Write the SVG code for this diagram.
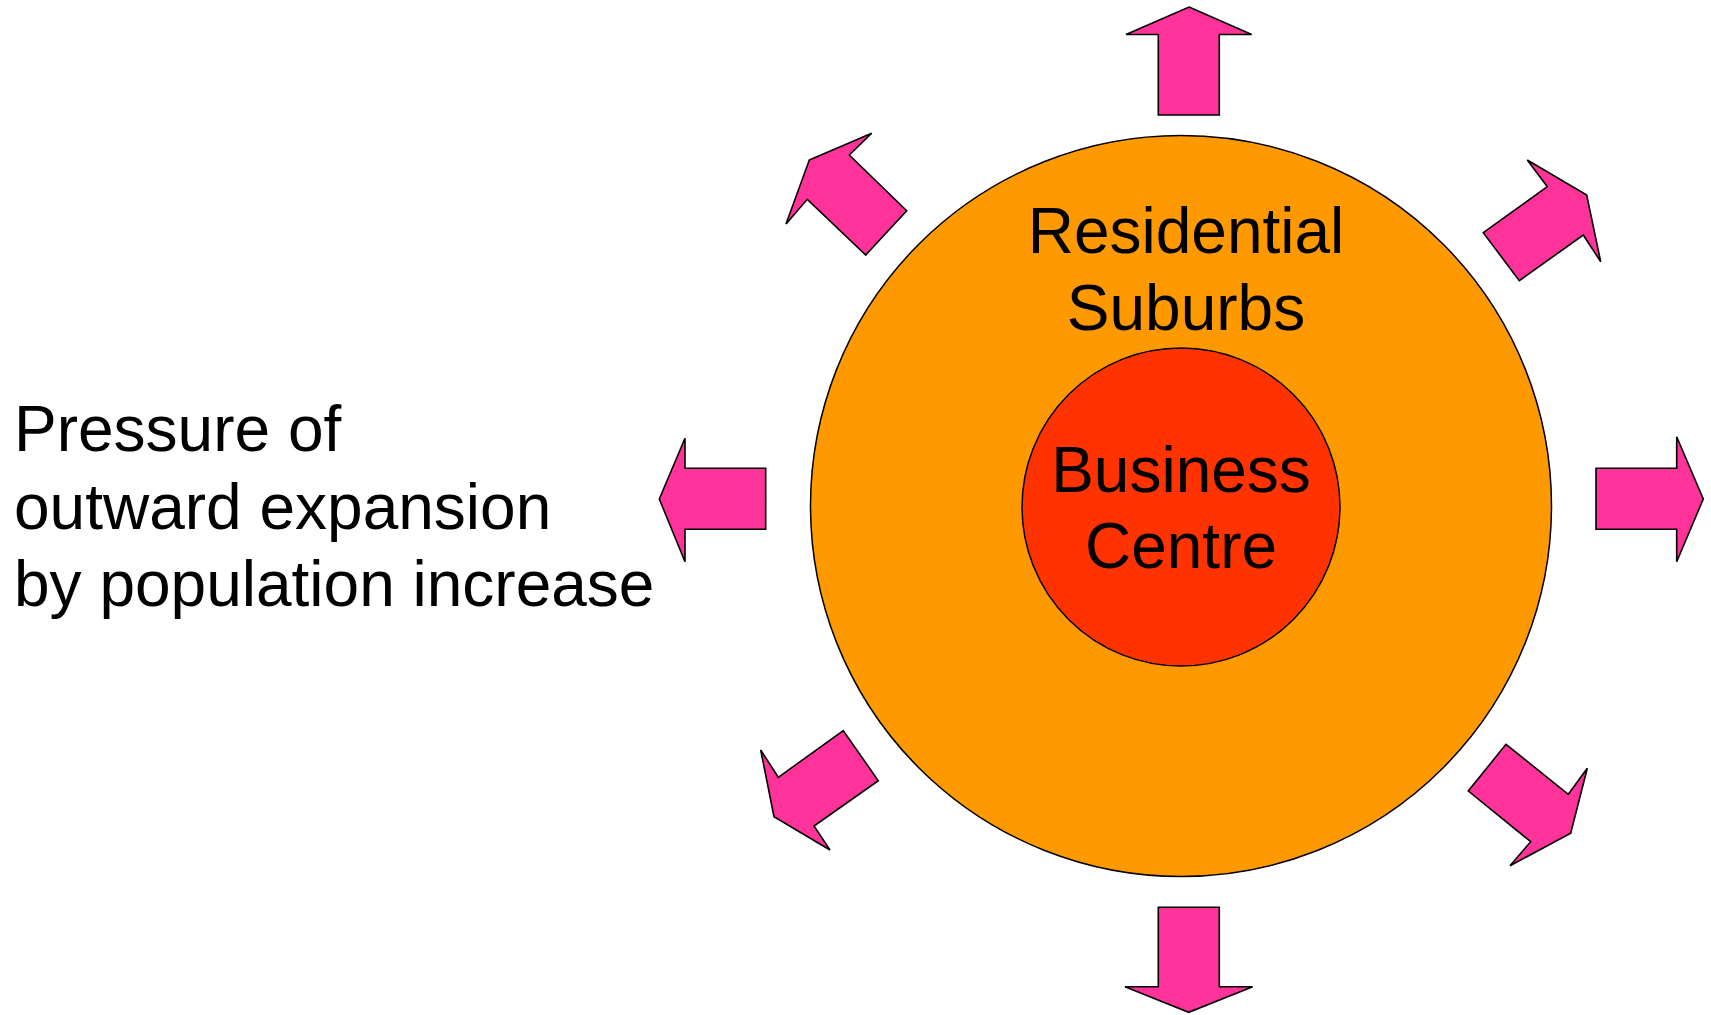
<svg xmlns="http://www.w3.org/2000/svg" width="1711" height="1015" viewBox="0 0 1711 1015">
<style>
.t{font-family:"Liberation Sans",Arial,Helvetica,sans-serif;font-size:64px;fill:#000}
.c{text-anchor:middle}
.arrow{fill:#FF3399;stroke:#000;stroke-width:1.6;stroke-linejoin:miter}
.ring{stroke:#000;stroke-width:1.5}
</style>
<rect width="1711" height="1015" fill="#fff"/>
<g id="residential-suburbs">
<circle class="ring" cx="1181" cy="506" r="370.5" fill="#FF9900"/>
<text class="t c" x="1186" y="253">Residential</text>
<text class="t c" x="1186" y="330">Suburbs</text>
</g>
<g id="business-centre">
<circle class="ring" cx="1181" cy="507" r="159" fill="#FF3300"/>
<text class="t c" x="1181" y="492">Business</text>
<text class="t c" x="1181" y="568">Centre</text>
</g>
<g id="caption">
<text class="t" x="14" y="451">Pressure of</text>
<text class="t" x="14" y="529">outward expansion</text>
<text class="t" x="14" y="606">by population increase</text>
</g>
<g id="connectors">
<g id="arrow-n"><polygon class="arrow" points="1189,7 1251.7,34.5 1219.3,34.5 1219.3,115 1158.3,115 1158.3,34.5 1126,34.5"/></g>
<g id="arrow-s"><polygon class="arrow" points="1158.3,907.3 1219.3,907.3 1219.3,986.7 1252.7,986.7 1188.7,1012.3 1125,986.7 1158.3,986.7"/></g>
<g id="arrow-w"><polygon class="arrow" points="659.3,499 685,438.3 685,468.3 765.7,468.3 765.7,529.3 685,529.3 685,561.7"/></g>
<g id="arrow-e"><polygon class="arrow" points="1596,468.3 1676.7,468.3 1676.7,436.7 1703.3,499 1676.7,561.7 1676.7,529.3 1596,529.3"/></g>
<g id="arrow-nw"><polygon class="arrow" points="809.3,160 871.7,133.3 849.3,155 906.7,210.7 865.7,255 807.3,199.3 786,224"/></g>
<g id="arrow-ne"><polygon class="arrow" points="1527.3,160 1547.3,186.7 1483.3,232.7 1519.3,280.7 1583.3,235 1600.7,261.7 1586.7,195"/></g>
<g id="arrow-sw"><polygon class="arrow" points="843.3,730.7 878.3,780.7 814,826 830,850 774,816.7 760.7,750 778.3,777.3"/></g>
<g id="arrow-se"><polygon class="arrow" points="1506,744.3 1468.3,791 1530.7,841.7 1510,865.7 1570.7,833.3 1587.3,768.3 1568.3,794.3"/></g>
</g>
</svg>
